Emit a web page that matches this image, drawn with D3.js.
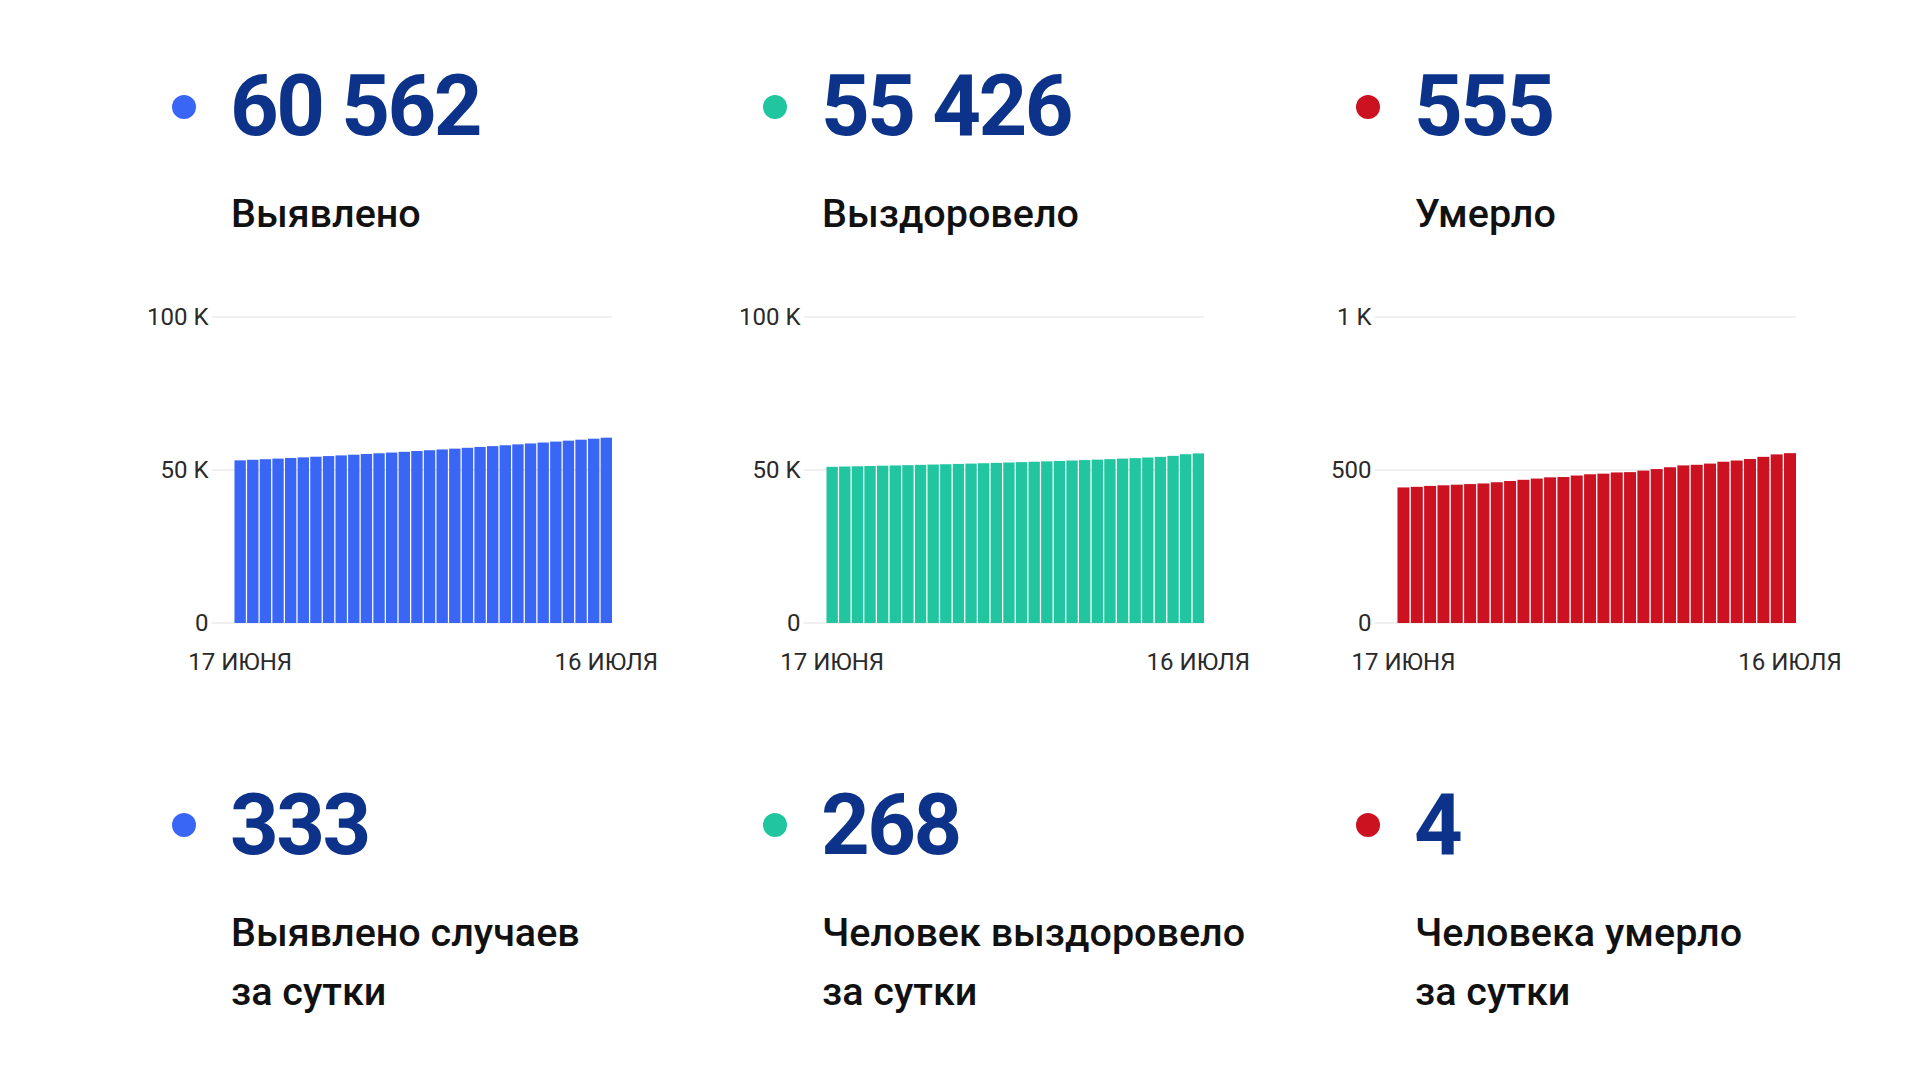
<!DOCTYPE html>
<html>
<head>
  <meta charset="utf-8">
  <title>Коронавирус: статистика</title>
  <script src="https://cdn.jsdelivr.net/npm/d3@7"></script>
  <style>
    body { margin: 0; background: #fff; }
    svg { font-family: Roboto, "Noto Sans", sans-serif; display: block; }
  </style>
</head>
<body>
<svg id="chart1" width="1920" height="1080"></svg>
<script>
// 17 июня .. 16 июля
var days = ["17.06","18.06","19.06","20.06","21.06","22.06","23.06","24.06","25.06","26.06",
            "27.06","28.06","29.06","30.06","01.07","02.07","03.07","04.07","05.07","06.07",
            "07.07","08.07","09.07","10.07","11.07","12.07","13.07","14.07","15.07","16.07"];
var dayTicks = ["17 ИЮНЯ", "16 ИЮЛЯ"];

var cases = [53155, 53340, 53530, 53725, 53925, 54130, 54340, 54555, 54775, 55000,
             55230, 55465, 55705, 55950, 56200, 56455, 56715, 56980, 57250, 57525,
             57805, 58090, 58380, 58675, 58975, 59280, 59590, 59905, 60229, 60562];
var recovered = [51040, 51130, 51220, 51310, 51400, 51490, 51580, 51680, 51780, 51880,
                 51990, 52100, 52210, 52330, 52450, 52570, 52700, 52830, 52960, 53100,
                 53240, 53390, 53550, 53720, 53880, 54080, 54300, 54620, 55158, 55426];
var deaths = [443, 445, 448, 450, 452, 454, 456, 460, 464, 468,
              472, 476, 477, 482, 486, 488, 492, 493, 498, 503,
              509, 515, 517, 521, 527, 531, 536, 543, 551, 555];

var titles = ["Выявлено", "Выздоровело", "Умерло"];
var dailyTitles = [["Выявлено случаев", "за сутки"],
                   ["Человек выздоровело", "за сутки"],
                   ["Человека умерло", "за сутки"]];
var colors = ["#3a66f6", "#21c6a1", "#cc1120"];
var yMax = [100000, 100000, 1000];
var yTicks = [[0, 50000, 100000], [0, 50000, 100000], [0, 500, 1000]];

var series = [cases, recovered, deaths];

var ru = d3.formatLocale({decimal: ",", thousands: " ", grouping: [3], currency: ["", ""]});
var fmtNum = ru.format(",d");
function fmtTick(v) {
  return v >= 1000 ? (v / 1000) + " K" : String(v);
}

var svg = d3.select("#chart1");
var colX = [233, 824, 1417];

function bigNumber(x, y, txt) {
  svg.append("text").attr("x", x - 3).attr("y", y)
    .attr("font-size", 85).attr("font-weight", 700).attr("fill", "#0c3389")
    .attr("letter-spacing", -2.5)
    .text(txt);
}
function caption(x, y, txt) {
  svg.append("text").attr("x", x - 2).attr("y", y)
    .attr("font-size", 39.5).attr("font-weight", 500).attr("fill", "#111")
    .text(txt);
}

series.forEach(function(vals, i) {
  var x0 = colX[i];
  var total = vals[vals.length - 1],
      perDay = total - vals[vals.length - 2];

  // totals
  svg.append("circle").attr("cx", x0 - 49).attr("cy", 107).attr("r", 12).attr("fill", colors[i]);
  bigNumber(x0, 135, fmtNum(total));
  caption(x0, 226.5, titles[i]);

  // per day
  svg.append("circle").attr("cx", x0 - 49).attr("cy", 825).attr("r", 12).attr("fill", colors[i]);
  bigNumber(x0, 854, fmtNum(perDay));
  dailyTitles[i].forEach(function(line, k) {
    caption(x0, 946 + k * 59, line);
  });

  // bars
  var g = svg.append("g");
  var regionLeft = 147 + i * 592,
      regionRight = 612 + i * 592,
      yTop = 317, yBottom = 623;

  var y = d3.scaleLinear().domain([0, yMax[i]]).range([yBottom, yTop]);

  var yLab = g.append("g").selectAll("text").data(yTicks[i]).join("text")
    .attr("y", function(d) { return y(d); })
    .attr("dy", "0.35em")
    .attr("font-size", 24).attr("fill", "#2a2a2a")
    .text(fmtTick);
  var labW = d3.max(yLab.nodes(), function(n) { return n.getComputedTextLength(); });
  var labRight = regionLeft + labW;
  yLab.attr("x", labRight).attr("text-anchor", "end");

  var gridLeft = labRight + 3,
      plotLeft = gridLeft + 23;

  g.append("g").selectAll("line").data(yTicks[i]).join("line")
    .attr("x1", gridLeft).attr("x2", regionRight)
    .attr("y1", function(d) { return y(d); }).attr("y2", function(d) { return y(d); })
    .attr("stroke", "#ebebeb").attr("stroke-width", 1.5);

  var x = d3.scaleBand().domain(days).range([plotLeft, regionRight]).paddingInner(0.1);

  g.append("g").selectAll("rect").data(vals).join("rect")
    .attr("x", function(d, j) { return x(days[j]); })
    .attr("width", x.bandwidth())
    .attr("y", function(d) { return y(d); })
    .attr("height", function(d) { return yBottom - y(d); })
    .attr("fill", colors[i]);

  var xAxis = d3.axisBottom(x)
    .tickValues([days[0], days[days.length - 1]])
    .tickSize(0).tickPadding(0)
    .tickFormat(function(d) { return d === days[0] ? dayTicks[0] : dayTicks[1]; });

  var ax = g.append("g").attr("transform", "translate(0," + (yBottom + 30) + ")").call(xAxis);
  ax.select(".domain").remove();
  ax.selectAll("text").attr("font-size", 24).attr("fill", "#2a2a2a")
    .attr("font-family", "Roboto, sans-serif");
});
</script>
</body>
</html>
